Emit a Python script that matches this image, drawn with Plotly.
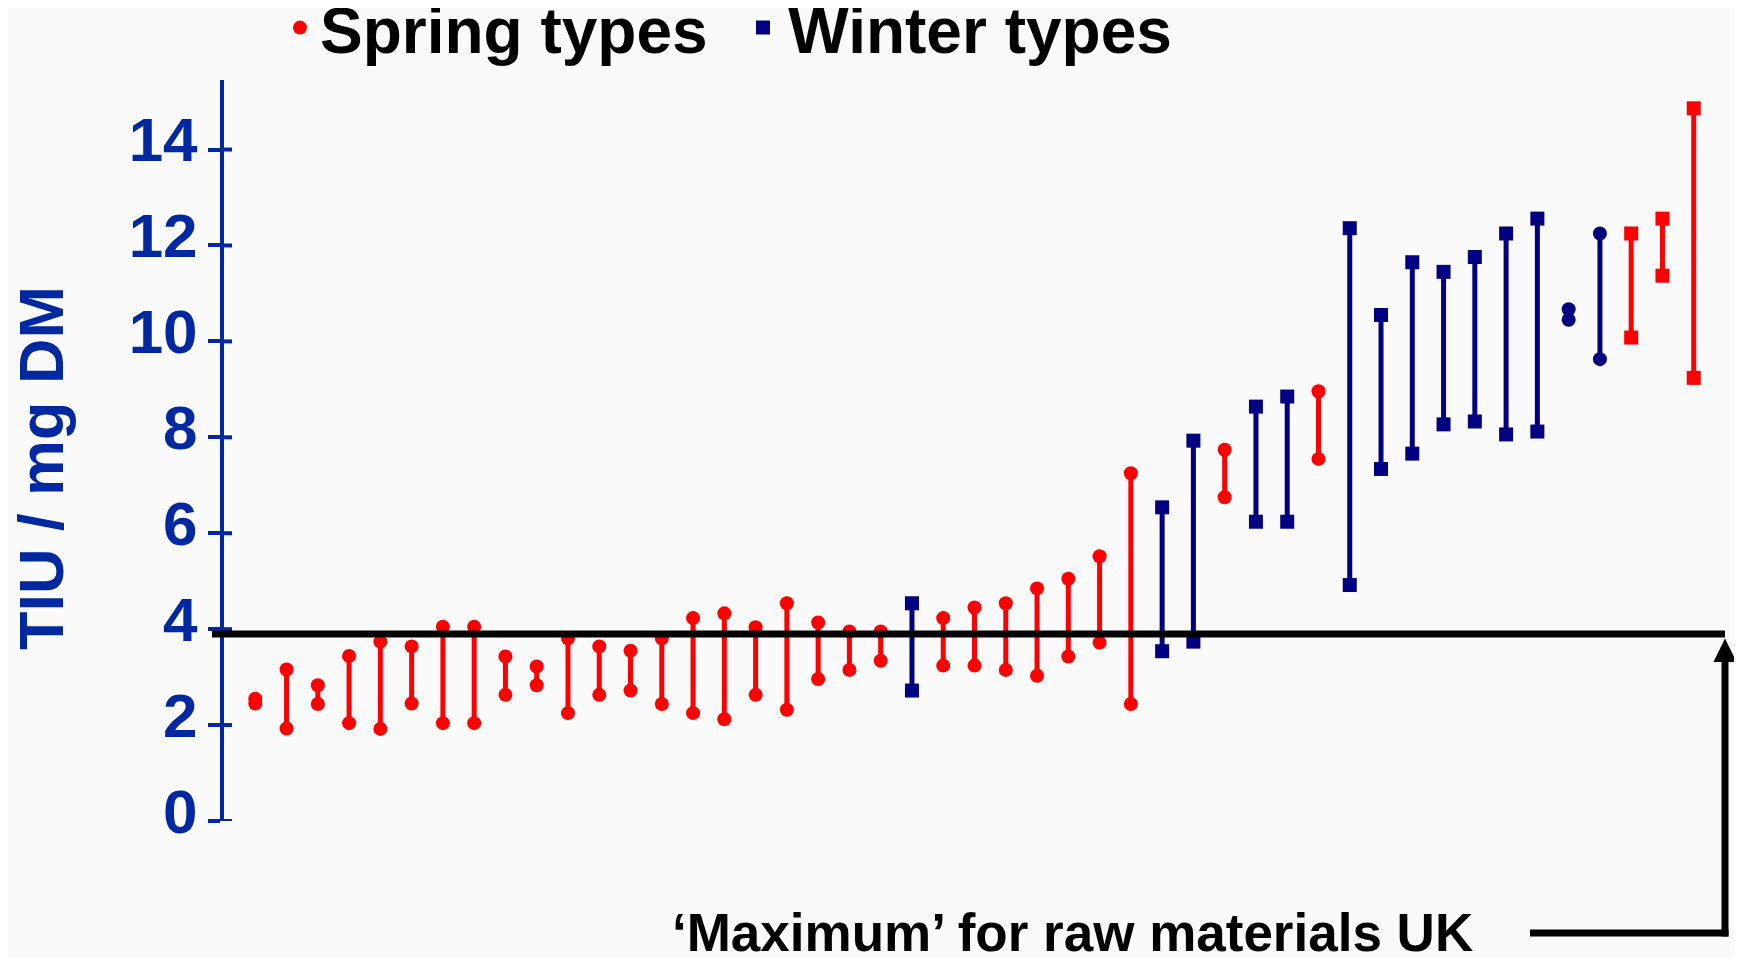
import plotly.graph_objects as go

# ---------------- data ----------------
variety = list(range(1, 48))
tiu_low = [2.45, 1.93, 2.44, 2.04, 1.92, 2.45, 2.04, 2.04, 2.63, 2.83,
           2.25, 2.63, 2.72, 2.44, 2.25, 2.12, 2.63, 2.32, 2.96, 3.15,
           3.34, 2.72, 3.24, 3.24, 3.15, 3.03, 3.43, 3.72, 2.44, 3.54,
           3.74, 6.75, 6.24, 6.24, 7.55, 4.92, 7.34, 7.66, 8.27, 8.33,
           8.06, 8.12, 10.45, 9.63, 10.08, 11.37, 9.24]
tiu_high = [2.55, 3.16, 2.83, 3.44, 3.74, 3.64, 4.05, 4.05, 3.43, 3.22,
            3.81, 3.64, 3.55, 3.81, 4.23, 4.33, 4.04, 4.54, 4.14, 3.95,
            3.95, 4.54, 4.23, 4.45, 4.54, 4.85, 5.05, 5.52, 7.25, 6.54,
            7.93, 7.74, 8.64, 8.85, 8.96, 12.36, 10.55, 11.65, 11.45, 11.76,
            12.25, 12.56, 10.67, 12.25, 12.25, 12.56, 14.86]
colour_group = (["spring"] * 21 + ["winter"] + ["spring"] * 7 + ["winter"] * 2
                + ["spring"] + ["winter"] * 2 + ["spring"] + ["winter"] * 9
                + ["spring"] * 3)
symbol_group = (["circle"] * 21 + ["square"] + ["circle"] * 7 + ["square"] * 2
                + ["circle"] + ["square"] * 2 + ["circle"] + ["square"] * 7
                + ["circle"] * 2 + ["square"] * 3)
uk_maximum = 3.9
y_ticks = [0, 2, 4, 6, 8, 10, 12, 14]

# ---------------- style ----------------
RED = "#FF0000"
NAVY = "#000080"
BLUE = "#0028A0"
BG = "#FAFAFA"
FONT = "Liberation Sans, Arial, sans-serif"
colours = {"spring": RED, "winter": NAVY}
Y_RANGE = [0, 15.45]

fig = go.Figure()

# range lines
for grp in ["spring", "winter"]:
    xs, ys = [], []
    for v, lo, hi, g in zip(variety, tiu_low, tiu_high, colour_group):
        if g == grp:
            xs += [v, v, None]
            ys += [lo, hi, None]
    fig.add_trace(go.Scatter(x=xs, y=ys, mode="lines",
                             line=dict(color=colours[grp], width=5),
                             showlegend=False, hoverinfo="skip"))

# end markers
combos = [("spring", "circle", "Spring types", True),
          ("winter", "square", "\u200aWinter types", True),
          ("winter", "circle", "Winter types", False),
          ("spring", "square", "Spring types", False)]
for grp, sym, name, leg in combos:
    xs, ys = [], []
    for v, lo, hi, g, s in zip(variety, tiu_low, tiu_high, colour_group, symbol_group):
        if g == grp and s == sym:
            xs += [v, v]
            ys += [lo, hi]
    fig.add_trace(go.Scatter(x=xs, y=ys, mode="markers", name=name,
                             marker=dict(color=colours[grp], symbol=sym, size=14,
                                         line=dict(width=0)),
                             showlegend=leg))

# paper position of the UK maximum (for the decorative arrow)
max_paper = (uk_maximum - Y_RANGE[0]) / (Y_RANGE[1] - Y_RANGE[0])

shapes = []
# inner half of the crossing ticks
for t in y_ticks:
    shapes.append(dict(type="line", xref="paper", yref="y", xsizemode="pixel",
                       xanchor=0, x0=0, x1=8, y0=t, y1=t,
                       line=dict(color=BLUE, width=4)))
# UK maximum line
shapes.append(dict(type="line", xref="paper", yref="y", x0=-0.008, x1=1.0,
                   y0=uk_maximum, y1=uk_maximum,
                   line=dict(color="black", width=7), layer="above"))
# arrow stem, arrow head and bottom connector (pixel offsets from the line end)
shapes.append(dict(type="line", xref="paper", yref="paper", ysizemode="pixel",
                   yanchor=max_paper, x0=1.0, x1=1.0, y0=-20, y1=-302.5,
                   line=dict(color="black", width=7)))
shapes.append(dict(type="path", xref="paper", yref="paper", xsizemode="pixel",
                   ysizemode="pixel", xanchor=1.0, yanchor=max_paper,
                   path="M0,-4.5 L11.5,-28 L-11.5,-28 Z",
                   fillcolor="black", line=dict(width=0)))
shapes.append(dict(type="line", xref="paper", yref="paper", xsizemode="pixel",
                   ysizemode="pixel", xanchor=1.0, yanchor=max_paper,
                   x0=-195, x1=3.5, y0=-299, y1=-299,
                   line=dict(color="black", width=7)))

annotations = [
    dict(x=0.5656, y=-0.1506, xref="paper", yref="paper",
         text="\u2018Maximum\u2019 for raw materials UK", showarrow=False,
         xanchor="center", yanchor="middle",
         font=dict(family=FONT, size=53, color="black", weight="bold")),
    dict(x=-0.1219, y=0.4764, xref="paper", yref="paper", text="TIU / mg DM",
         textangle=-90, showarrow=False, xanchor="center", yanchor="middle",
         font=dict(family=FONT, size=63, color=BLUE, weight="bold")),
]

fig.update_layout(
    width=1734, height=950,
    paper_bgcolor=BG, plot_bgcolor=BG,
    margin=dict(l=216, r=17, t=72, b=137, autoexpand=False),
    showlegend=True,
    legend=dict(orientation="h", x=0.0373, y=1.0702, xanchor="left", yanchor="middle",
                font=dict(family=FONT, size=64, color="black", weight="bold"),
                bgcolor="rgba(0,0,0,0)", entrywidth=418, entrywidthmode="pixels",
                itemsizing="trace"),
    xaxis=dict(range=[0, 48], visible=False, fixedrange=True),
    yaxis=dict(range=Y_RANGE, tickvals=y_ticks, showticklabels=True,
               ticks="outside", ticklen=12, tickwidth=4, tickcolor=BLUE,
               ticklabelstandoff=-2, ticklabelshift=-10,
               tickfont=dict(family=FONT, size=62, color=BLUE, weight="bold"),
               showline=True, linewidth=4, linecolor=BLUE, showgrid=False,
               zeroline=False),
    shapes=shapes,
    annotations=annotations,
)

fig.write_html("out.html")
